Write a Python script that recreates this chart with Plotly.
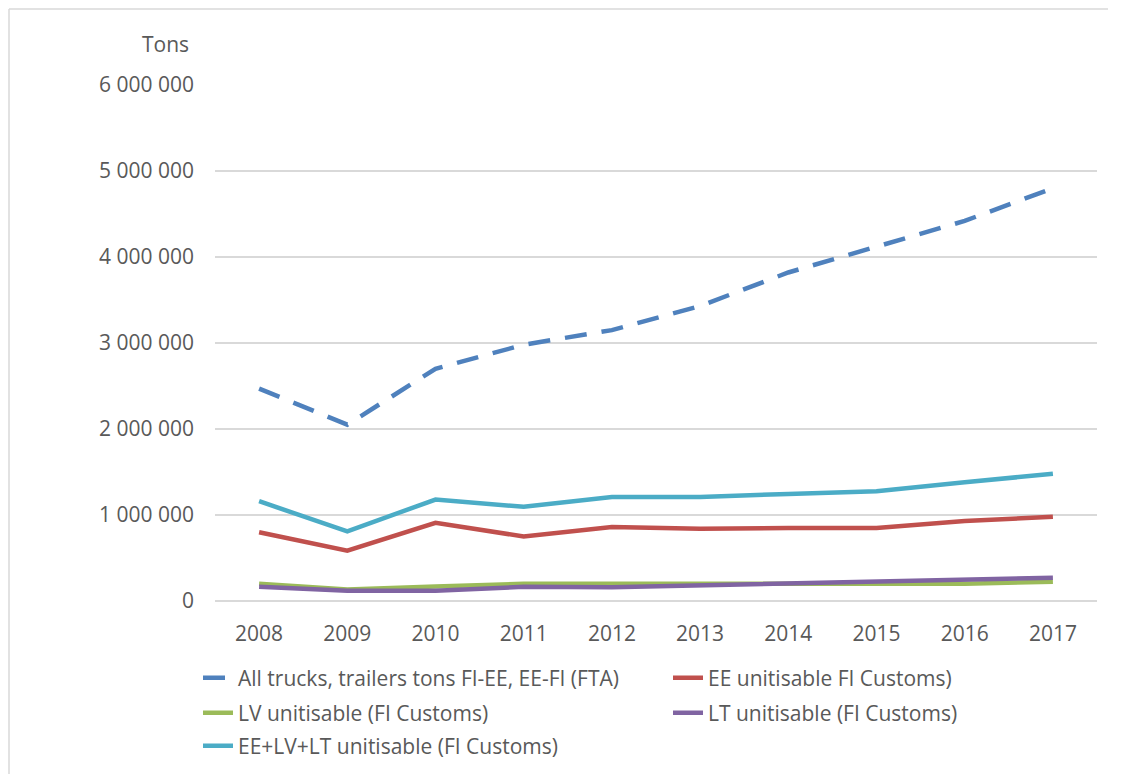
import plotly.graph_objects as go

years = ["2008", "2009", "2010", "2011", "2012", "2013", "2014", "2015", "2016", "2017"]
all_trucks = [2470000, 2050000, 2700000, 2980000, 3150000, 3430000, 3820000, 4120000, 4420000, 4800000]
ee_unit = [800000, 585000, 910000, 750000, 860000, 840000, 850000, 850000, 930000, 980000]
lv_unit = [200000, 135000, 170000, 200000, 200000, 200000, 200000, 190000, 200000, 225000]
lt_unit = [165000, 120000, 120000, 165000, 160000, 180000, 205000, 225000, 245000, 270000]
sum_unit = [1160000, 810000, 1180000, 1095000, 1210000, 1210000, 1245000, 1275000, 1380000, 1480000]

names = ["All trucks, trailers tons FI-EE, EE-FI (FTA)", "EE unitisable FI Customs)",
         "LV unitisable (FI Customs)", "LT unitisable (FI Customs)", "EE+LV+LT unitisable (FI Customs)"]
colors = ["#4F81BD", "#C0504D", "#9BBB59", "#8064A2", "#4BACC6"]
tickvals = [0, 1000000, 2000000, 3000000, 4000000, 5000000, 6000000]
ticktext = ["0", "1 000 000", "2 000 000", "3 000 000", "4 000 000", "5 000 000", "6 000 000"]

W, H = 1121, 774
OFF = 8  # page body margin offset
ML, MR, MT, MB = 215 - OFF, 32, 85 - OFF, 181
PW, PH = W - ML - MR, H - MT - MB

FONT = "Open Sans"
TXT = "#595959"
FS = 21

def px_x(px):
    return (px - OFF - ML) / PW

def px_y(py):
    return (H - MB - (py - OFF)) / PH

legend_ids = ["legend", "legend2", "legend3", "legend4", "legend5"]
legend_pos = [(198, 678), (668, 678), (198, 713), (668, 713), (198, 746)]

fig = go.Figure()
series = [all_trucks, ee_unit, lv_unit, lt_unit, sum_unit]
for i, s in enumerate(series):
    fig.add_trace(go.Scatter(
        x=years, y=s, mode="lines", name=names[i],
        line=dict(color=colors[i], width=4.5, dash="22px,15px" if i == 0 else "solid"),
        legend=legend_ids[i],
    ))

leg_layout = {}
for lid, (lx, ly) in zip(legend_ids, legend_pos):
    leg_layout[lid] = dict(orientation="h", xanchor="left", yanchor="middle",
                           x=px_x(lx), y=px_y(ly),
                           font=dict(family=FONT, size=FS, color=TXT),
                           bgcolor="rgba(0,0,0,0)")

fig.update_layout(
    width=W, height=H,
    margin=dict(l=ML, r=MR, t=MT, b=MB),
    paper_bgcolor="white", plot_bgcolor="white",
    font=dict(family=FONT, color=TXT),
    xaxis=dict(showgrid=False, showline=False, zeroline=False, ticks="",
               tickfont=dict(family=FONT, size=FS, color=TXT), ticklabelstandoff=18,
               range=[-0.5, 9.5]),
    yaxis=dict(range=[0, 6000000], tickvals=tickvals, ticktext=ticktext,
               showgrid=True, gridcolor="#D9D9D9", gridwidth=1.5,
               zeroline=True, zerolinecolor="#D9D9D9", zerolinewidth=2,
               showline=False, ticks="",
               tickfont=dict(family=FONT, size=FS, color=TXT), ticklabelstandoff=20),
    showlegend=True,
    **leg_layout,
)

fig.add_annotation(text="Tons", xref="paper", yref="paper", x=px_x(165), y=px_y(44),
                   showarrow=False, xanchor="center", yanchor="middle",
                   font=dict(family=FONT, size=FS, color=TXT))

# outer chart border (top and left edges visible in the reference)
border = dict(color="#D9D9D9", width=1.5)
fig.add_shape(type="line", xref="paper", yref="paper",
              x0=px_x(OFF + 1), x1=px_x(1108), y0=px_y(OFF + 1), y1=px_y(OFF + 1),
              line=border, layer="below")
fig.add_shape(type="line", xref="paper", yref="paper",
              x0=px_x(OFF + 1), x1=px_x(OFF + 1), y0=px_y(OFF + 1), y1=px_y(780),
              line=border, layer="below")

fig.write_html("out.html")
